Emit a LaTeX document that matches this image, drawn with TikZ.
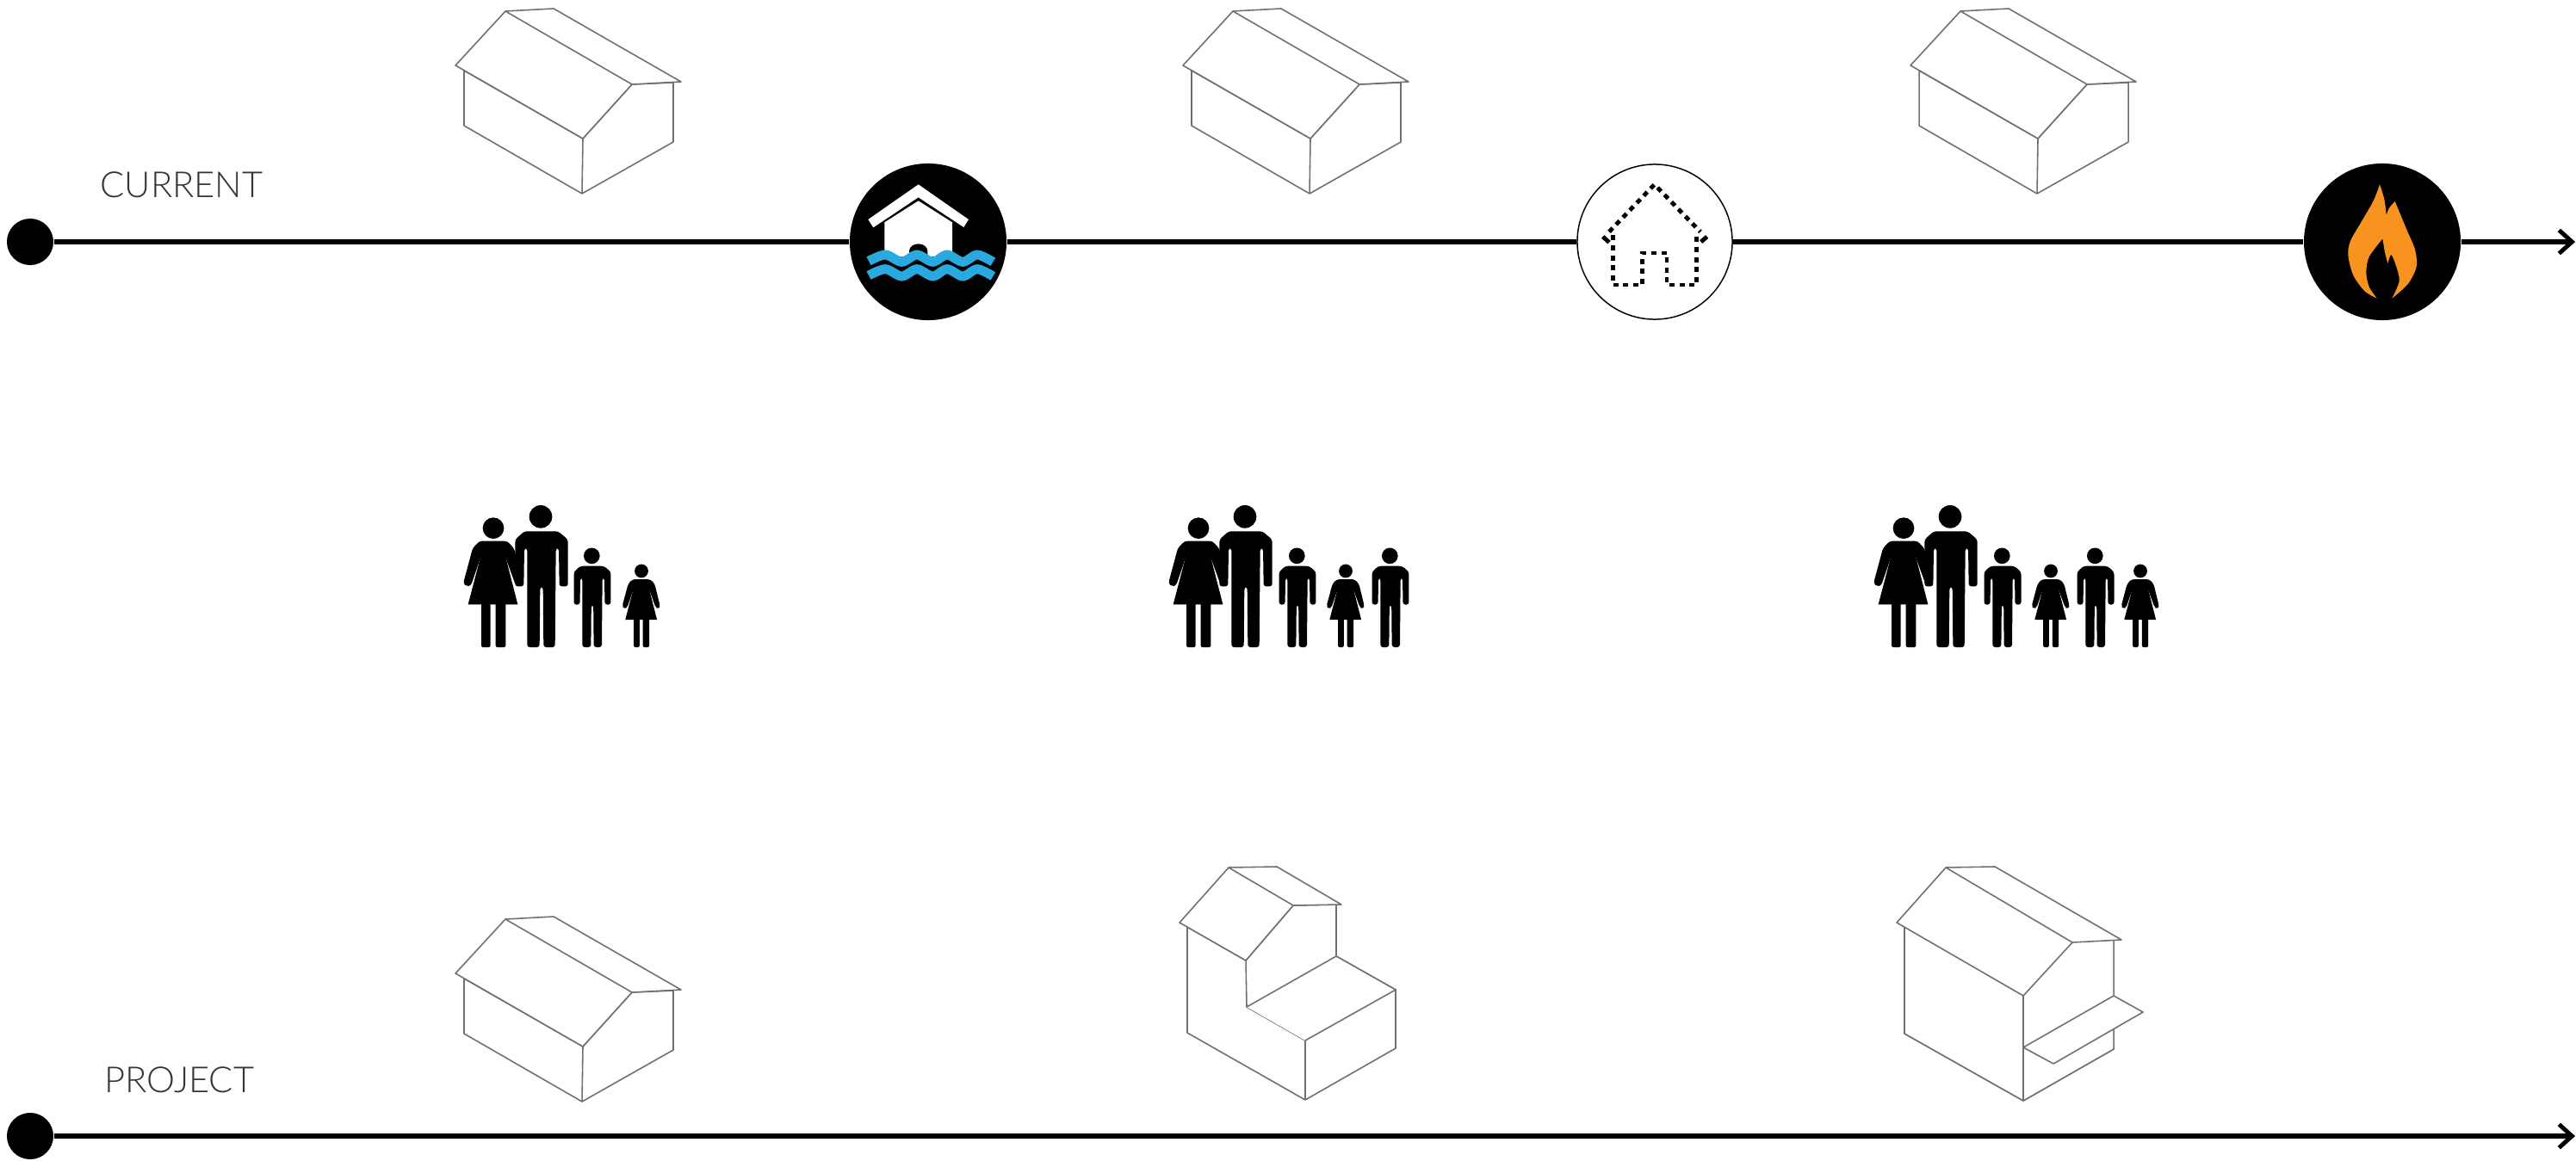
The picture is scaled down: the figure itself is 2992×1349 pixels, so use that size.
\documentclass[tikz,border=0pt]{standalone}
\usepackage{fontspec}
\usepackage{tikz}
\usetikzlibrary{arrows.meta}
\newfontfamily\labelfont{Lato Light}
\definecolor{waterblue}{HTML}{29A9E0}
\definecolor{flameorange}{HTML}{F7931E}
\definecolor{housegray}{HTML}{707070}
\definecolor{labelgray}{HTML}{333333}
\tikzset{
  timeline/.style={line width=1.5pt},
  timearrow/.style={timeline, -{Straight Barb[length=1.5mm,width=2.7mm,line width=1.4pt]}},
  startdot/.style={circle, fill=black, minimum size=0.54cm, inner sep=0pt},
  eventdark/.style={circle, fill=black, minimum size=1.82cm, inner sep=0pt},
  eventopen/.style={circle, draw=black, fill=white, line width=0.42pt, minimum size=1.8cm, inner sep=0pt},
  rowlabel/.style={anchor=base west, inner sep=0pt, text=labelgray, font=\labelfont\fontsize{11.85}{14}\selectfont},
  houseline/.style={draw=housegray, line width=0.45pt, line join=round, fill=white},
  wave/.style={draw=waterblue, line width=3.1pt},
  dashedicon/.style={line width=1.4pt, dash pattern=on 1.7pt off 1.6pt},
  pics/man/.style={code={
    \begin{scope}[scale=1/3]
    \fill (-3,-455) circle (40);
    \fill[rounded corners=0.3mm] (-92,-212) -- (-92,-375) -- (-60,-404) -- (58,-404) -- (92,-375) -- (92,-212) -- (62,-212) -- (60,-345) -- (50,-345) -- (47,0) -- (7,0) -- (5,-210) -- (-5,-210) -- (-7,0) -- (-50,0) -- (-50,-345) -- (-60,-345) -- (-62,-212) -- cycle;
    \end{scope}
  }},
  pics/woman/.style={code={
    \begin{scope}[scale=1/3]
    \fill (0,-415) circle (37);
    \fill[rounded corners=0.3mm] (-105,-222) -- (-72,-345) -- (-48,-370) -- (48,-370) -- (72,-345) -- (102,-222) -- (92,-212) -- (78,-215) -- (40,-320) -- (-42,-320) -- (-78,-215) -- (-92,-212) -- cycle;
    \fill (-42,-325) -- (-88,-149) -- (85,-149) -- (40,-325) -- cycle;
    \fill[rounded corners=0.2mm] (-42,-170) -- (-42,0) -- (-10,0) -- (-10,-170) -- cycle;
    \fill[rounded corners=0.2mm] (8,-170) -- (8,0) -- (43,0) -- (43,-170) -- cycle;
    \end{scope}
  }}
}
\newcommand{\plainhouse}[2]{%
  \begin{scope}[xshift=#1*0.01cm, yshift=#2*-0.01cm]
  \path[houseline] (539,82) -- (539,146) -- (676,225) -- (782,165) -- (782,96) -- (734,98) -- (677,161) -- cycle;
  \draw[houseline] (677,161) -- (676,225);
  \draw[houseline] (529,76) -- (587,13) -- (643,10) -- (791,95) -- (734,98) -- (677,161) -- cycle;
  \draw[houseline] (587,13) -- (734,98);
  \end{scope}}
\begin{document}
\begin{tikzpicture}[x=0.01cm, y=-0.01cm]
\useasboundingbox (0,0) rectangle (2992,1349);
%----------------- Current row: houses above the line -----------------
\plainhouse{0}{0}
\plainhouse{845}{0}
\plainhouse{1690}{0}
%----------------- Current row: line and events -----------------
\node[rowlabel] (currentlabel) at (116,230) {CURRENT};
\node[startdot] (currentstart) at (35,281) {};
\node[eventdark] (flood) at (1078,281) {};
\node[eventopen] (collapse) at (1922,281) {};
\node[eventdark] (fire) at (2767,281) {};
\coordinate (currentend) at (2991,281);
\draw[timeline] (currentstart) -- (flood);
\draw[timeline] (flood) -- (collapse);
\draw[timeline] (collapse) -- (fire);
\draw[timearrow] (fire) -- (currentend);
% flooded house
\begin{scope}[shift={(950,170)}, scale=1/3]
\fill[white] (175,255) -- (350,133) -- (525,255) -- (508,282) -- (350,178) -- (193,283) -- cycle;
\fill[white] (232,265) -- (350,190) -- (468,265) -- (468,385) -- (232,385) -- cycle;
\fill (318,395) -- (318,365) arc[start angle=180, end angle=360, x radius=32, y radius=25] -- (382,395) -- cycle;
\foreach \yy in {0,50} {
  \draw[wave] plot[smooth] coordinates {(177,{400+\yy}) (235,{378+\yy}) (292,{403+\yy}) (345,{378+\yy}) (400,{403+\yy}) (450,{378+\yy}) (505,{403+\yy}) (555,{378+\yy}) (610,{403+\yy})};
}
\end{scope}
% dotted house
\begin{scope}[shift={(1800,170)}, scale=1/3]
\draw[dashedicon] (207,298) -- (365,133) -- (525,298);
\draw[dashedicon] (220,310) -- (220,483) -- (322,483) -- (322,372) -- (408,372) -- (408,483) -- (512,483) -- (512,310);
\draw[line width=1.4pt] (185,315) -- (207,335);
\draw[line width=1.4pt] (548,315) -- (527,333);
\end{scope}
% flame
\begin{scope}[shift={(2640,170)}, scale=1/3]
\fill[flameorange] (372,133) -- plot[smooth] coordinates {(372,133) (350,190) (310,260) (270,330) (262,380) (280,450) (320,505) (362,530)}
  -- plot[smooth] coordinates {(362,530) (335,490) (325,440) (335,385) (382,322)}
  -- plot[smooth] coordinates {(382,322) (390,370) (400,408)}
  -- plot[smooth] coordinates {(400,408) (412,378) (430,420) (440,470) (415,530)}
  -- plot[smooth] coordinates {(415,530) (470,480) (500,420) (495,360) (470,300) (445,240) (425,192)}
  -- plot[smooth] coordinates {(425,192) (405,215) (395,240)}
  -- plot[smooth] coordinates {(395,240) (388,185) (372,133)} -- cycle;
\end{scope}
%----------------- Families -----------------
\pic at (573,752) {woman};
\pic at (629,752) {man};
\pic[scale=0.7] at (688,752) {man};
\pic[scale=0.64] at (745,752) {woman};
\pic at (1392,752) {woman};
\pic at (1447,752) {man};
\pic[scale=0.7] at (1507,752) {man};
\pic[scale=0.64] at (1563,752) {woman};
\pic[scale=0.7] at (1615,752) {man};
\pic at (2211,752) {woman};
\pic at (2266,752) {man};
\pic[scale=0.7] at (2326,752) {man};
\pic[scale=0.64] at (2382,752) {woman};
\pic[scale=0.7] at (2434,752) {man};
\pic[scale=0.64] at (2486,752) {woman};
%----------------- Project row: houses above the line -----------------
\plainhouse{0}{1055}
% house with a lower extension
\path[houseline] (1379,1077) -- (1379,1200) -- (1516,1278) -- (1621,1218) -- (1621,1150) -- (1552,1111) -- (1552,1051) -- (1502,1052) -- (1447,1116) -- cycle;
\draw[houseline] (1370,1072) -- (1427,1008) -- (1483,1007) -- (1558,1051) -- (1502,1052) -- (1447,1116) -- cycle;
\draw[houseline] (1427,1008) -- (1502,1052);
\draw[houseline] (1552,1051) -- (1552,1111);
\draw[houseline] (1447,1116) -- (1448,1170) -- (1516,1209);
\draw[houseline] (1448,1170) -- (1552,1111) -- (1621,1150) -- (1516,1209);
\draw[houseline] (1516,1209) -- (1516,1278);
% house with a canopy
\path[houseline] (2212,1078) -- (2212,1201) -- (2350,1279) -- (2455,1219) -- (2455,1093) -- (2407,1095) -- (2350,1157) -- cycle;
\draw[houseline] (2212,1078) -- (2212,1201) -- (2350,1279) -- (2455,1219) -- (2455,1093);
\draw[houseline] (2203,1072) -- (2260,1008) -- (2317,1007) -- (2464,1092) -- (2407,1095) -- (2350,1157) -- cycle;
\draw[houseline] (2260,1008) -- (2407,1095);
\draw[houseline] (2350,1157) -- (2350,1279);
\draw[houseline] (2350,1217) -- (2455,1157) -- (2489,1176) -- (2385,1236) -- cycle;
%----------------- Project row: line -----------------
\node[rowlabel] (projectlabel) at (121,1269) {PROJECT};
\node[startdot] (projectstart) at (35,1320) {};
\coordinate (projectend) at (2991,1320);
\draw[timearrow] (projectstart) -- (projectend);
\end{tikzpicture}
\end{document}
